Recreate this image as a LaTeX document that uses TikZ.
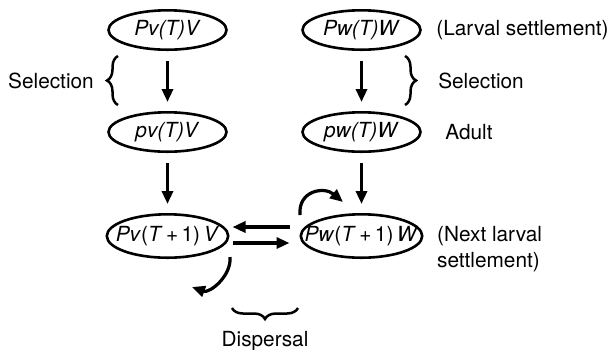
\documentclass[tikz,border=0pt]{standalone}
\usepackage{fontspec}
\setmainfont{TeX Gyre Heros}
\usetikzlibrary{shapes.geometric, graphs, arrows.meta, decorations.pathreplacing, positioning}

\begin{document}
\begin{tikzpicture}[
                x=0.5pt, y=0.5pt,
                > ={Triangle[length=6.5pt, width=5.5pt]},
                line width=1.6pt,
                font=\fontsize{10.4}{12.8}\selectfont,
                patch/.style={ellipse, draw, line width=1.3pt, inner sep=0pt,
                    inner xsep=-8pt, minimum width=59pt, minimum height=19.7pt},
                next/.style={patch, minimum width=60.7pt, minimum height=21.7pt},
                flow/.style={->, shorten <=5pt, shorten >=4.5pt},
                brc/.style={decorate, decoration={brace, amplitude=5.5pt}, line width=1.25pt},
                lbl/.style={inner sep=0pt},
            ]
            \useasboundingbox (0,0) rectangle (613,-349) ;

            \matrix (m) [row sep=30pt, column sep=35pt] at (264.5,-134) {
                \node[patch] (Pv) {\textit{Pv(T)V}} ; &
                \node[patch] (Pw) {\textit{Pw(T)W}} ; \\
                \node[patch] (pv) {\textit{pv(T)V}} ; &
                \node[patch] (pw) {\textit{pw(T)W}} ; \\
                \node[next] (Pv1) {\textit{Pv}(\textit{T}\,+\,1)\,\textit{V}} ; &
                \node[next] (Pw1) {\textit{Pw}(\textit{T}\,+\,1)\,\textit{W}} ; \\
            } ;

            \graph[use existing nodes, edges={flow}]{
                Pv -> pv -> Pv1 ;
                Pw -> pw -> Pw1 ;
            } ;

            % dispersal between the two patches
            \draw[->] ([xshift=-5pt, yshift=4.5pt]Pw1.west) -- ([xshift=1.5pt, yshift=4.5pt]Pv1.east) ;
            \draw[->] ([xshift=1.5pt, yshift=-3.5pt]Pv1.east) -- ([xshift=-5pt, yshift=-3.5pt]Pw1.west) ;

            % local retention
            \coordinate (Vstay) at (230,-257) ;
            \coordinate (Vback) at (192,-287) ;
            \coordinate (Wstay) at (300,-215) ;
            \coordinate (Wback) at (343,-202) ;
            \draw[->] (Vstay) to[out=-85, in=-20] (Vback) ;
            \draw[->] (Wstay) to[out=95, in=140, looseness=1.4] (Wback) ;

            \draw[brc] (118,-105) -- (118,-56) node[lbl, midway, left=11.5pt] (selV) {Selection} ;
            \draw[brc] (405,-56) -- (405,-105) node[lbl, midway, right=16pt] (selW) {Selection} ;
            \draw[brc] (298,-308) -- (232,-308) node[lbl, midway, below=11pt] (disp) {Dispersal} ;

            \node[lbl, right=6.5pt of Pw] (larva) {(Larval settlement)} ;
            \node[lbl, right=11pt of pw] (adult) {Adult} ;
            \node[lbl, align=left, right=6pt of Pw1, yshift=-6.5pt] (nextlarva) {(Next larval\\settlement)} ;
        \end{tikzpicture}
\end{document}
